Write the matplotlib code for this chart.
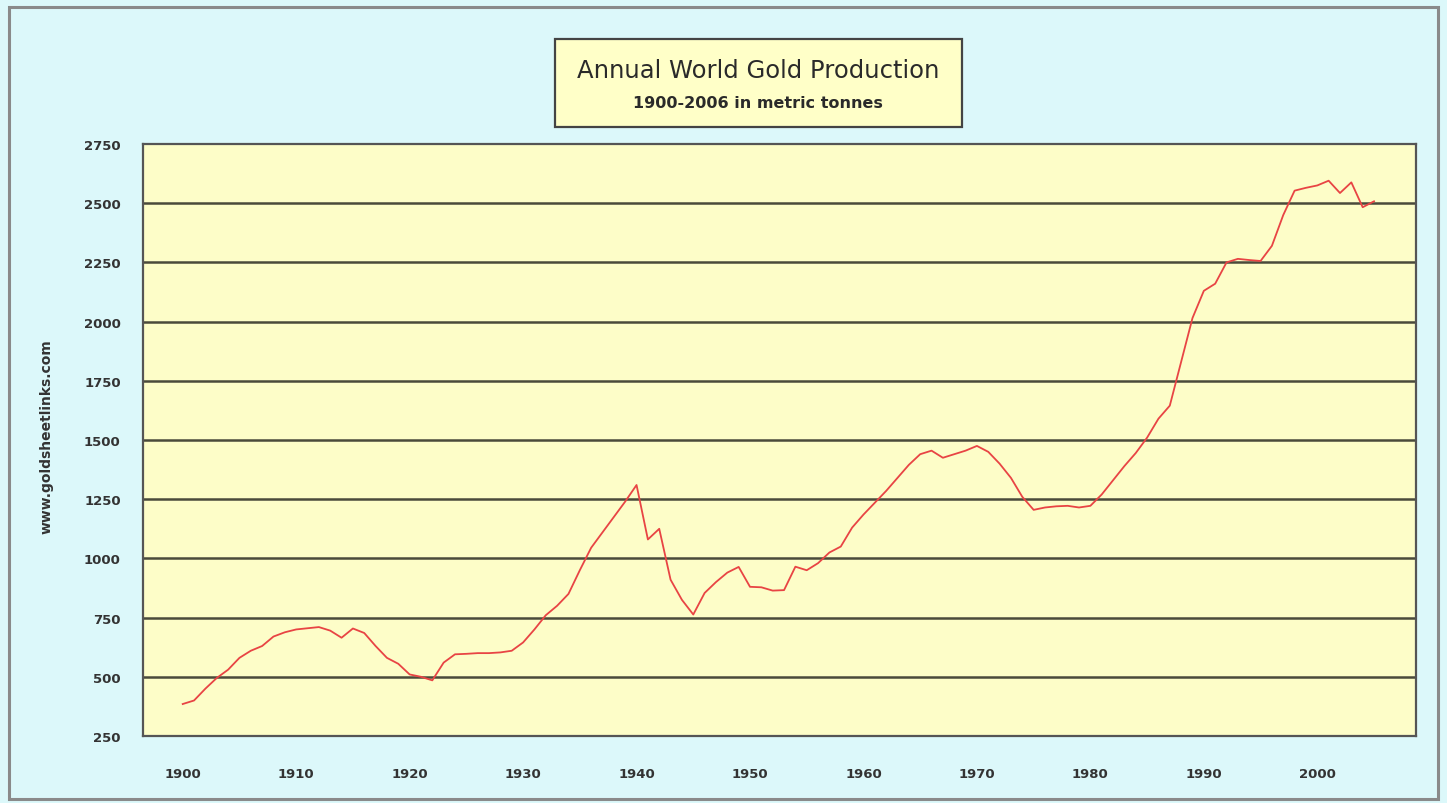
import matplotlib
matplotlib.use("Agg")
import matplotlib.pyplot as plt
from matplotlib.patches import Rectangle

years = list(range(1900, 2006))
production = [
    385, 400, 450, 495, 530, 580, 610, 630, 670, 688,
    700, 705, 710, 695, 665, 704, 685, 630, 580, 555,
    510, 500, 485, 560, 595, 597, 600, 600, 603, 610,
    645, 700, 760, 800, 850, 950, 1045, 1110, 1175, 1240,
    1310, 1080, 1125, 910, 825, 763, 854, 900, 940, 964,
    880, 878, 864, 866, 965, 950, 980, 1025, 1050, 1130,
    1185, 1235, 1285, 1340, 1395, 1440, 1455, 1425, 1440, 1455,
    1475, 1450, 1400, 1340, 1260, 1205, 1215, 1220, 1222, 1215,
    1222, 1270, 1330, 1390, 1445, 1510, 1590, 1645, 1830, 2015,
    2130, 2160, 2250, 2265, 2260, 2256, 2320, 2450, 2553, 2565,
    2575, 2595, 2543, 2588, 2483, 2508,
]
y_ticks = [250, 500, 750, 1000, 1250, 1500, 1750, 2000, 2250, 2500, 2750]
x_ticks = [1900, 1910, 1920, 1930, 1940, 1950, 1960, 1970, 1980, 1990, 2000]
title = "Annual World Gold Production"
subtitle = "1900-2006 in metric tonnes"
side_label = "www.goldsheetlinks.com"

W, H = 1447, 804
fig = plt.figure(figsize=(W / 100, H / 100), dpi=100)
fig.patch.set_facecolor("#dcf8fa")

# outer frame
fig.patches.append(Rectangle((9 / W, 1 - 800 / H), (1438 - 9) / W, (800 - 8) / H,
                             transform=fig.transFigure, fill=False,
                             edgecolor="#8a8a8a", linewidth=2.2))

ax = fig.add_axes([143 / W, 1 - 737 / H, (1416 - 143) / W, (737 - 145) / H])
ax.set_facecolor("#fdfdc8")
ax.plot(years, production, color="#e84444", linewidth=1.3, zorder=3)

ax.set_xlim(1896.5, 2008.7)
ax.set_ylim(250, 2750)
ax.set_yticks(y_ticks)
ax.set_yticklabels([str(v) for v in y_ticks])
ax.set_xticks(x_ticks)
ax.set_xticklabels([str(v) for v in x_ticks])
ax.tick_params(length=0, labelsize=9.5, colors="#333333")
for lab in ax.get_yticklabels() + ax.get_xticklabels():
    lab.set_fontweight("bold")
ax.tick_params(axis="y", pad=16)
ax.tick_params(axis="x", pad=22)

for v in y_ticks[1:-1]:
    ax.axhline(v, color="#4a4a3a", linewidth=1.8, zorder=2)
for s in ax.spines.values():
    s.set_color("#555555")
    s.set_linewidth(1.6)

fig.text(47 / W, 1 - 437 / H, side_label, rotation=90, ha="center", va="center",
         fontsize=10, fontweight="bold", color="#333333")

# title box
fig.patches.append(Rectangle((555 / W, 1 - 128 / H), (962 - 555) / W, (128 - 40) / H,
                             transform=fig.transFigure, facecolor="#ffffc8",
                             edgecolor="#444444", linewidth=1.6, zorder=5))
fig.text(758 / W, 1 - 71 / H, title, ha="center", va="center", fontsize=17.5,
         color="#2a2a2a", zorder=6)
fig.text(758 / W, 1 - 103 / H, subtitle, ha="center", va="center", fontsize=11.5,
         fontweight="bold", color="#2a2a2a", zorder=6)

fig.savefig("out.png", dpi=100, facecolor=fig.get_facecolor())
